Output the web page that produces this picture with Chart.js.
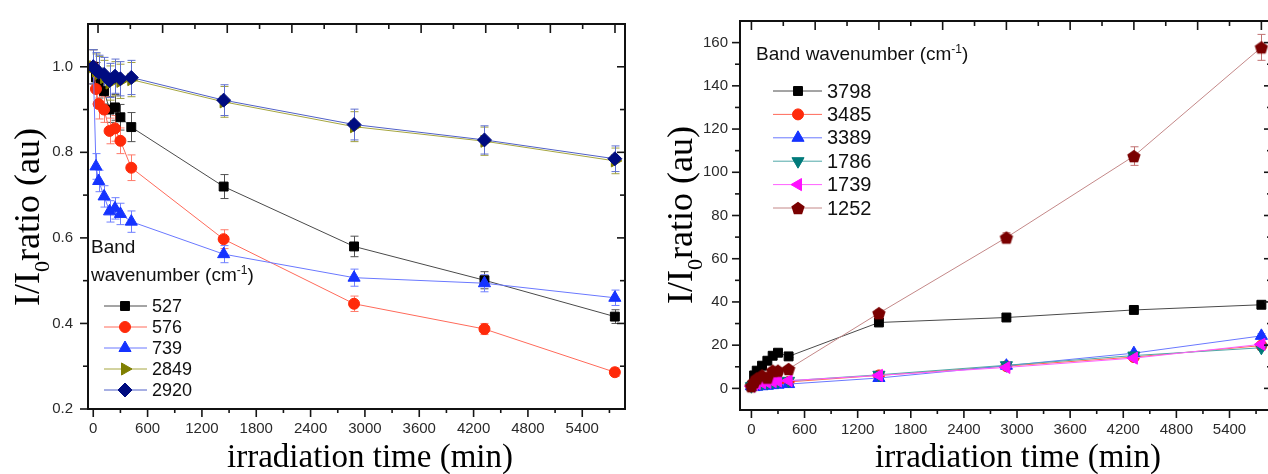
<!DOCTYPE html>
<html><head><meta charset="utf-8">
<script src="https://cdn.jsdelivr.net/npm/chart.js@4.4.1/dist/chart.umd.min.js"></script>
<style>
html,body{margin:0;padding:0;background:#fff;overflow:hidden;width:1268px;height:474px;position:relative}
canvas{position:absolute;top:0}
#c1{left:0}#c2{left:640px}
</style></head>
<body>
<canvas id="c1" width="640" height="474"></canvas>
<canvas id="c2" width="640" height="474"></canvas>
<script>
// ---------- data ----------
const TIMES = [0, 30, 60, 120, 180, 240, 300, 420, 1440, 2880, 4320, 5760];

// left panel (decreasing bands)
const LEFT_LABELS = ['527', '576', '739', '2849', '2920'];
const I527  = [1.000, 0.975, 0.962, 0.943, 0.900, 0.905, 0.882, 0.859, 0.720, 0.580, 0.501, 0.416];
const E527  = [0.040, 0.035, 0.035, 0.030, 0.030, 0.030, 0.030, 0.034, 0.028, 0.024, 0.020, 0.016];
const I576  = [1.000, 0.948, 0.913, 0.900, 0.850, 0.856, 0.827, 0.764, 0.597, 0.446, 0.387, 0.286];
const E576  = [0.040, 0.035, 0.035, 0.030, 0.030, 0.030, 0.030, 0.030, 0.022, 0.018, 0.013, 0.010];
const I739  = [1.000, 0.767, 0.733, 0.697, 0.662, 0.669, 0.656, 0.638, 0.562, 0.507, 0.494, 0.460];
const E739  = [0.040, 0.030, 0.025, 0.025, 0.025, 0.025, 0.025, 0.025, 0.020, 0.020, 0.020, 0.018];
const I2849 = [1.000, 0.990, 0.984, 0.975, 0.962, 0.972, 0.966, 0.970, 0.918, 0.860, 0.826, 0.780];
const E2849 = [0.040, 0.040, 0.040, 0.040, 0.040, 0.040, 0.040, 0.040, 0.036, 0.035, 0.033, 0.030];
const I2920 = [1.000, 0.993, 0.987, 0.982, 0.968, 0.978, 0.972, 0.975, 0.922, 0.865, 0.829, 0.785];
const E2920 = [0.040, 0.040, 0.040, 0.040, 0.040, 0.040, 0.040, 0.040, 0.036, 0.036, 0.033, 0.030];

// right panel (increasing bands)
const RIGHT_LABELS = ['3798', '3485', '3389', '1786', '1739', '1252'];
const I3798 = [1.0, 6.0, 8.2, 10.5, 12.8, 15.1, 16.5, 14.8, 30.5, 32.8, 36.3, 38.7];
const E3798 = [0.3, 0.5, 0.5, 0.5, 0.5, 0.6, 0.6, 0.6, 1.0, 0.9, 0.9, 0.9];
const I3485 = [1.0, 1.5, 2.0, 2.3, 2.5, 2.8, 3.0, 3.0, 6.0, 10.3, 14.5, 19.8];
const E3485 = [0.2, 0.3, 0.3, 0.3, 0.3, 0.3, 0.3, 0.3, 0.5, 0.6, 0.8, 1.0];
const I3389 = [1.0, 0.6, 0.8, 1.0, 1.2, 1.5, 1.7, 2.0, 4.8, 10.5, 16.3, 24.3];
const E3389 = [0.2, 0.3, 0.3, 0.3, 0.3, 0.3, 0.3, 0.3, 0.5, 0.6, 0.8, 1.0];
const I1786 = [1.0, 1.5, 2.0, 2.4, 2.6, 3.0, 3.2, 3.5, 6.3, 10.7, 15.2, 18.8];
const E1786 = [0.2, 0.3, 0.3, 0.3, 0.3, 0.3, 0.3, 0.3, 0.5, 0.6, 0.8, 1.0];
const I1739 = [1.0, 1.8, 2.3, 2.6, 2.8, 3.2, 3.4, 3.6, 6.0, 9.7, 14.0, 20.4];
const E1739 = [0.2, 0.3, 0.3, 0.3, 0.3, 0.3, 0.3, 0.3, 0.5, 0.6, 0.8, 1.0];
const I1252 = [1.0, 3.0, 4.6, 6.0, 5.0, 8.2, 8.2, 9.0, 34.8, 69.8, 107.5, 157.8];
const E1252 = [0.3, 0.5, 0.6, 0.6, 0.6, 0.8, 0.8, 0.8, 1.5, 2.2, 4.3, 6.0];

// ticks
const X_TICKS = [0, 600, 1200, 1800, 2400, 3000, 3600, 4200, 4800, 5400];
const X_MINOR = [300, 900, 1500, 2100, 2700, 3300, 3900, 4500, 5100, 5700];
const TOP_MAJOR_H = [0, 12, 24, 36, 48, 60, 72, 84, 96];
const TOP_MINOR_H = [6, 18, 30, 42, 54, 66, 78, 90];
const L_Y_TICKS = [0.2, 0.4, 0.6, 0.8, 1.0];
const L_Y_MINOR = [0.3, 0.5, 0.7, 0.9];
const R_Y_TICKS = [0, 20, 40, 60, 80, 100, 120, 140, 160];
const R_Y_MINOR = [10, 30, 50, 70, 90, 110, 130, 150];

const X_TITLE = 'irradiation time (min)';
const LEGEND_HEAD = 'Band wavenumber';

// ---------- styles ----------
function pentagonImg(color, r) {
  const c = document.createElement('canvas');
  const s = Math.ceil(2 * r + 2);
  c.width = s; c.height = s;
  const g = c.getContext('2d');
  g.beginPath();
  for (let k = 0; k < 5; k++) {
    const a = -Math.PI / 2 + k * 2 * Math.PI / 5;
    g.lineTo(s / 2 + r * Math.cos(a), s / 2 + r * Math.sin(a) + r * 0.1);
  }
  g.closePath(); g.fillStyle = color; g.fill();
  return c;
}

const ST = {
  black:  {mark: '#000000', line: '#4a4a4a', err: '#505050', style: 'rect', r: 6.3},
  red:    {mark: '#ff2a0a', line: '#ff6a5a', err: '#ff7a6a', style: 'circle', r: 5.5},
  blue:   {mark: '#1533ff', line: '#6a78ff', err: '#7080ff', style: 'triangle', r: 7},
  olive:  {mark: '#7f7f00', line: '#a6a640', err: '#a0a040', style: 'triangle', rot: 90, r: 7},
  navy:   {mark: '#000c80', line: '#5060c8', err: '#6070d0', style: 'rectRot', r: 7},
  teal:   {mark: '#007a7a', line: '#50a8a8', err: '#60b0b0', style: 'triangle', rot: 180, r: 7},
  magenta:{mark: '#ff10ff', line: '#ff60ff', err: '#ff80ff', style: 'triangle', rot: 270, r: 7},
  maroon: {mark: '#7a0000', line: '#c48888', err: '#c07070', style: pentagonImg('#7a0000', 7), r: 7}
};

function mk(label, ys, errs, st, order) {
  return {
    label: label,
    data: TIMES.map((t, i) => ({x: t, y: ys[i]})),
    errors: errs, errColor: st.err,
    borderColor: st.line, borderWidth: 1, backgroundColor: st.mark,
    pointBackgroundColor: st.mark, pointBorderColor: st.mark, pointBorderWidth: 1,
    pointStyle: st.style, pointRotation: st.rot || 0,
    pointRadius: st.r, pointHoverRadius: st.r,
    tension: 0, fill: false, order: order
  };
}

// ---------- decoration plugin ----------
const decor = {
  id: 'decor',
  beforeDatasetsDraw(chart) {
    const ctx = chart.ctx, a = chart.chartArea;
    const xs = chart.scales.x, ys = chart.scales.y;
    ctx.save();
    ctx.beginPath(); ctx.rect(a.left, a.top, a.right - a.left, a.bottom - a.top); ctx.clip();
    chart.data.datasets.forEach(ds => {
      if (!ds.errors) return;
      ctx.strokeStyle = ds.errColor; ctx.lineWidth = 1;
      ds.data.forEach((p, i) => {
        const e = ds.errors[i]; if (!e) return;
        const x = Math.round(xs.getPixelForValue(p.x)) + 0.5;
        const y1 = ys.getPixelForValue(p.y - e), y2 = ys.getPixelForValue(p.y + e);
        ctx.beginPath();
        ctx.moveTo(x, y1); ctx.lineTo(x, y2);
        ctx.moveTo(x - 4, y1); ctx.lineTo(x + 4, y1);
        ctx.moveTo(x - 4, y2); ctx.lineTo(x + 4, y2);
        ctx.stroke();
      });
    });
    ctx.restore();
  },
  afterDraw(chart, args, o) {
    const ctx = chart.ctx, a = chart.chartArea;
    const xs = chart.scales.x, ys = chart.scales.y, x2 = chart.scales.x2;
    ctx.save();
    // ticks
    ctx.strokeStyle = '#151515'; ctx.lineWidth = 1.6;
    const hl = (x1, x2_, y) => { ctx.beginPath(); ctx.moveTo(x1, y); ctx.lineTo(x2_, y); ctx.stroke(); };
    const vl = (x, y1, y2) => { ctx.beginPath(); ctx.moveTo(x, y1); ctx.lineTo(x, y2); ctx.stroke(); };
    o.yMajor.forEach(v => { const y = ys.getPixelForValue(v); hl(a.left - 8, a.left, y); hl(a.right, a.right - 8, y); });
    o.yMinor.forEach(v => { const y = ys.getPixelForValue(v); hl(a.left - 5, a.left, y); hl(a.right, a.right - 5, y); });
    o.xMajor.forEach(v => { const x = xs.getPixelForValue(v); vl(x, a.bottom, a.bottom + 8); });
    o.xMinor.forEach(v => { const x = xs.getPixelForValue(v); vl(x, a.bottom, a.bottom + 4); });
    o.topMajor.forEach(v => { const x = x2.getPixelForValue(v); vl(x, a.top, a.top + 9); });
    o.topMinor.forEach(v => { const x = x2.getPixelForValue(v); vl(x, a.top, a.top + 5); });
    // frame
    ctx.lineWidth = 2; ctx.strokeStyle = '#111';
    ctx.strokeRect(a.left, a.top, a.right - a.left, a.bottom - a.top);

    // x title
    ctx.fillStyle = '#000';
    ctx.font = o.xTitleSize + 'px "Liberation Serif"';
    ctx.textAlign = 'center'; ctx.textBaseline = 'alphabetic';
    ctx.fillText(X_TITLE, a.left + o.xTitleDx, o.xTitleY);

    // y title with subscript
    const fs = o.yTitleSize;
    ctx.save();
    ctx.translate(a.left - o.yTitleDx, o.yTitleCY);
    ctx.rotate(-Math.PI / 2);
    ctx.textAlign = 'left';
    const big = fs + 'px "Liberation Serif"', small = Math.round(fs * 0.62) + 'px "Liberation Serif"';
    ctx.font = big; const w1 = ctx.measureText('I/I').width; const w2 = ctx.measureText('ratio (au)').width;
    ctx.font = small; const w0 = ctx.measureText('0').width;
    let sx = -(w1 + w0 + w2) / 2;
    ctx.font = big; ctx.fillText('I/I', sx, 0); sx += w1;
    ctx.font = small; ctx.fillText('0', sx, fs * 0.28); sx += w0;
    ctx.font = big; ctx.fillText('ratio (au)', sx, 0);
    ctx.restore();

    // legend
    const L = o.legend;
    ctx.fillStyle = '#111'; ctx.textAlign = 'left'; ctx.textBaseline = 'alphabetic';
    const hf = L.headSize + 'px "Liberation Sans"', hs = Math.round(L.headSize * 0.62) + 'px "Liberation Sans"';
    const drawCm = (x, y) => {
      ctx.font = hf; ctx.fillText('(cm', x, y); x += ctx.measureText('(cm').width;
      ctx.font = hs; ctx.fillText('-1', x, y - L.headSize * 0.38); x += ctx.measureText('-1').width;
      ctx.font = hf; ctx.fillText(')', x, y);
    };
    const hx = a.left + L.headDx;
    if (L.twoLine) {
      ctx.font = hf; ctx.fillText('Band', hx, L.headY1);
      ctx.fillText('wavenumber ', hx, L.headY2);
      drawCm(hx + ctx.measureText('wavenumber ').width, L.headY2);
    } else {
      ctx.font = hf; ctx.fillText(LEGEND_HEAD + ' ', hx, L.headY1);
      drawCm(hx + ctx.measureText(LEGEND_HEAD + ' ').width, L.headY1);
    }
    chart.data.datasets.forEach((ds, i) => {
      const y = L.y0 + i * L.dy;
      ctx.strokeStyle = ds.borderColor; ctx.lineWidth = 1;
      hl(a.left + L.lx1, a.left + L.lx2, y);
      ctx.fillStyle = ds.pointBackgroundColor; ctx.strokeStyle = ds.pointBorderColor; ctx.lineWidth = 1;
      Chart.helpers.drawPoint(ctx, {pointStyle: ds.pointStyle, rotation: ds.pointRotation, radius: ds.pointRadius, borderWidth: 1}, a.left + L.mx, y);
      ctx.fillStyle = '#111'; ctx.font = L.itemSize + 'px "Liberation Sans"'; ctx.textBaseline = 'middle';
      ctx.fillText(ds.label, a.left + L.tx, y + 1);
      ctx.textBaseline = 'alphabetic';
    });
    ctx.restore();
  }
};

const tickFont = {family: '"Liberation Sans"', size: 15};
function makeOptions(cfg) {
  return {
    responsive: false, animation: false, events: [],
    layout: {padding: {top: cfg.padTop, right: cfg.padRight, left: 0, bottom: 0}},
    plugins: {legend: {display: false}, tooltip: {enabled: false}, decor: cfg.decor},
    scales: {
      x: {type: 'linear', position: 'bottom', min: cfg.xMin, max: cfg.xMax, bounds: 'data',
          afterBuildTicks: s => { s.ticks = X_TICKS.map(v => ({value: v})); },
          afterFit: s => { s.height = cfg.xAxisH; },
          grid: {display: false, drawTicks: false}, border: {display: false},
          ticks: {font: tickFont, color: '#2a2a2a', padding: 11, maxRotation: 0, autoSkip: false, callback: v => String(v)}},
      x2: {type: 'linear', position: 'top', min: cfg.hMin, max: cfg.hMax, bounds: 'data',
           afterBuildTicks: s => { s.ticks = TOP_MAJOR_H.map(v => ({value: v})); },
           afterFit: s => { s.height = 0; },
           grid: {display: false, drawTicks: false}, border: {display: false}, ticks: {display: false}},
      y: {type: 'linear', position: 'left', min: cfg.yMin, max: cfg.yMax, bounds: 'data',
          afterBuildTicks: s => { s.ticks = cfg.yTicks.map(v => ({value: v})); },
          afterFit: s => { s.width = cfg.yAxisW; },
          grid: {display: false, drawTicks: false}, border: {display: false},
          ticks: {font: tickFont, color: '#2a2a2a', padding: cfg.yPad, autoSkip: false, callback: cfg.yFmt}}
    }
  };
}

const leftSets = [
  mk(LEFT_LABELS[0], I527, E527, ST.black, 5),
  mk(LEFT_LABELS[1], I576, E576, ST.red, 4),
  mk(LEFT_LABELS[2], I739, E739, ST.blue, 3),
  mk(LEFT_LABELS[3], I2849, E2849, ST.olive, 2),
  mk(LEFT_LABELS[4], I2920, E2920, ST.navy, 1)
];
const rightSets = [
  mk(RIGHT_LABELS[0], I3798, E3798, ST.black, 6),
  mk(RIGHT_LABELS[1], I3485, E3485, ST.red, 5),
  mk(RIGHT_LABELS[2], I3389, E3389, ST.blue, 4),
  mk(RIGHT_LABELS[3], I1786, E1786, ST.teal, 3),
  mk(RIGHT_LABELS[4], I1739, E1739, ST.magenta, 2),
  mk(RIGHT_LABELS[5], I1252, E1252, ST.maroon, 1)
];

new Chart(document.getElementById('c1'), {
  type: 'line',
  data: {datasets: leftSets},
  plugins: [decor],
  options: makeOptions({
    padTop: 14.5, padRight: 15, xAxisH: 65, yAxisW: 88,
    xMin: -58, xMax: 5872, hMin: -1.86, hMax: 97.86,
    yMin: 0.2, yMax: 1.1, yTicks: L_Y_TICKS, yPad: 15, yFmt: v => Number(v).toFixed(1),
    decor: {
      yMajor: L_Y_TICKS, yMinor: L_Y_MINOR, xMajor: X_TICKS, xMinor: X_MINOR,
      topMajor: TOP_MAJOR_H, topMinor: TOP_MINOR_H,
      xTitleSize: 33, xTitleDx: 282, xTitleY: 467,
      yTitleSize: 36, yTitleDx: 49, yTitleCY: 217,
      legend: {twoLine: true, headSize: 19, headDx: 3, headY1: 253, headY2: 281,
               y0: 306, dy: 21, lx1: 16, lx2: 59, mx: 37, tx: 64, itemSize: 18}
    }
  })
});

new Chart(document.getElementById('c2'), {
  type: 'line',
  data: {datasets: rightSets},
  plugins: [decor],
  options: makeOptions({
    padTop: 18, padRight: 4, xAxisH: 64, yAxisW: 100,
    xMin: -129, xMax: 5880, hMin: -129 / 60, hMax: 5880 / 60,
    yMin: -10, yMax: 170, yTicks: R_Y_TICKS, yPad: 12, yFmt: v => String(v),
    decor: {
      yMajor: R_Y_TICKS, yMinor: R_Y_MINOR, xMajor: X_TICKS, xMinor: X_MINOR,
      topMajor: TOP_MAJOR_H, topMinor: TOP_MINOR_H,
      xTitleSize: 33, xTitleDx: 278, xTitleY: 467,
      yTitleSize: 36, yTitleDx: 48, yTitleCY: 215,
      legend: {twoLine: false, headSize: 19, headDx: 16, headY1: 60,
               y0: 91, dy: 23.4, lx1: 33, lx2: 82, mx: 58, tx: 87, itemSize: 20}
    }
  })
});
</script>
</body></html>
